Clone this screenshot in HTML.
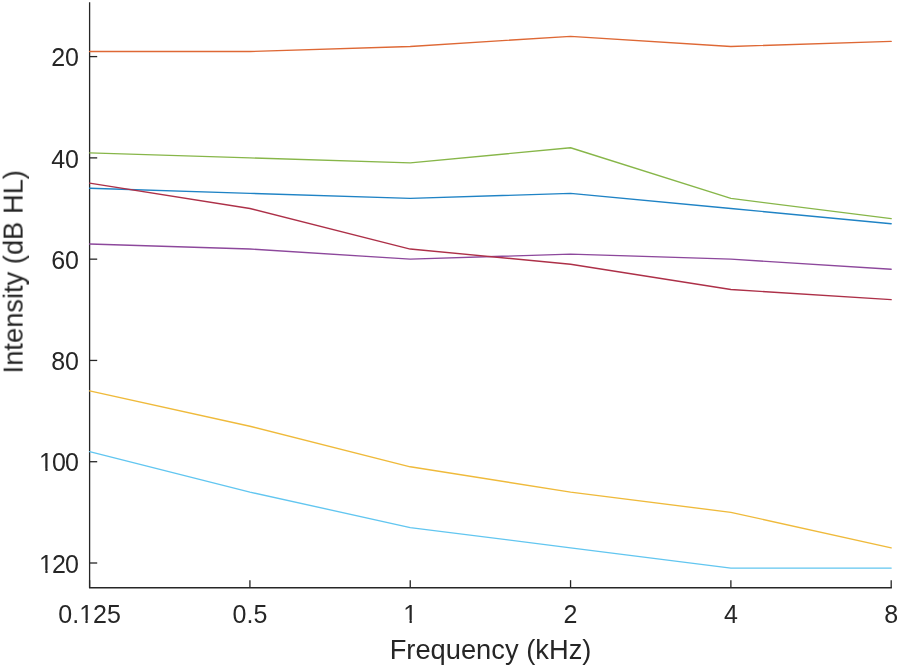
<!DOCTYPE html>
<html><head><meta charset="utf-8"><title>Audiogram</title><style>
html,body{margin:0;padding:0;background:#fff;}
body{width:900px;height:668px;overflow:hidden;}
svg{display:block;}
.t{will-change:transform;}
text{font-family:"Liberation Sans",sans-serif;font-size:25px;fill:#262626;}
text.lab{font-size:27.3px;}
</style></head><body>
<svg width="900" height="668" viewBox="0 0 900 668">
<rect width="900" height="668" fill="#fff"/>
<g stroke="#262626" stroke-width="1.3" fill="none">
<path d="M89.6,2.3 V587.77 H891.85"/>
<line x1="89.6" y1="56.60" x2="97.20" y2="56.60"/>
<line x1="89.6" y1="157.88" x2="97.20" y2="157.88"/>
<line x1="89.6" y1="259.16" x2="97.20" y2="259.16"/>
<line x1="89.6" y1="360.44" x2="97.20" y2="360.44"/>
<line x1="89.6" y1="461.72" x2="97.20" y2="461.72"/>
<line x1="89.6" y1="563.00" x2="97.20" y2="563.00"/>
<line x1="89.60" y1="587.77" x2="89.60" y2="580.17"/>
<line x1="249.92" y1="587.77" x2="249.92" y2="580.17"/>
<line x1="410.24" y1="587.77" x2="410.24" y2="580.17"/>
<line x1="570.56" y1="587.77" x2="570.56" y2="580.17"/>
<line x1="730.88" y1="587.77" x2="730.88" y2="580.17"/>
<line x1="891.20" y1="587.77" x2="891.20" y2="580.17"/>
</g>
<g>
<polyline points="89.60,188.26 249.92,193.33 410.24,198.39 570.56,193.33 730.88,208.52 891.20,223.71" fill="none" stroke="#1F83C5" stroke-width="1.35" stroke-linejoin="round" stroke-linecap="round"/>
<polyline points="89.60,51.54 249.92,51.54 410.24,46.47 570.56,36.34 730.88,46.47 891.20,41.41" fill="none" stroke="#DE6835" stroke-width="1.35" stroke-linejoin="round" stroke-linecap="round"/>
<polyline points="89.60,390.82 249.92,426.27 410.24,466.78 570.56,492.10 730.88,512.36 891.20,547.81" fill="none" stroke="#EFBA3B" stroke-width="1.35" stroke-linejoin="round" stroke-linecap="round"/>
<polyline points="89.60,243.97 249.92,249.03 410.24,259.16 570.56,254.10 730.88,259.16 891.20,269.29" fill="none" stroke="#8D489C" stroke-width="1.35" stroke-linejoin="round" stroke-linecap="round"/>
<polyline points="89.60,152.82 249.92,157.88 410.24,162.94 570.56,147.75 730.88,198.39 891.20,218.65" fill="none" stroke="#87B649" stroke-width="1.35" stroke-linejoin="round" stroke-linecap="round"/>
<polyline points="89.60,451.59 249.92,492.10 410.24,527.55 570.56,547.81 730.88,568.06 891.20,568.06" fill="none" stroke="#62C6F0" stroke-width="1.35" stroke-linejoin="round" stroke-linecap="round"/>
<polyline points="89.60,183.20 249.92,208.52 410.24,249.03 570.56,264.22 730.88,289.54 891.20,299.67" fill="none" stroke="#AD3048" stroke-width="1.35" stroke-linejoin="round" stroke-linecap="round"/>
</g>
<g class="t">
<text x="79.0" y="66.30" text-anchor="end">20</text>
<text x="79.0" y="167.58" text-anchor="end">40</text>
<text x="79.0" y="268.86" text-anchor="end">60</text>
<text x="79.0" y="370.14" text-anchor="end">80</text>
<text x="79.0" y="471.42" text-anchor="end">1<tspan dx="-0.9">0</tspan><tspan dx="-0.9">0</tspan></text>
<text x="79.0" y="572.70" text-anchor="end">1<tspan dx="-0.9">2</tspan><tspan dx="-0.9">0</tspan></text>
<text x="89.60" y="622.7" text-anchor="middle">0.125</text>
<text x="249.92" y="622.7" text-anchor="middle">0.5</text>
<text x="410.24" y="622.7" text-anchor="middle">1</text>
<text x="570.56" y="622.7" text-anchor="middle">2</text>
<text x="730.88" y="622.7" text-anchor="middle">4</text>
<text x="891.20" y="622.7" text-anchor="middle">8</text>
<text class="lab" x="490.5" y="659.2" text-anchor="middle">Frequency (kHz)</text>
<text class="lab" transform="translate(22.6,271.7) rotate(-90)" text-anchor="middle">Intensity (dB HL)</text>
<rect x="39.99" y="468.65" width="5.38" height="3.97" fill="#fff"/>
<rect x="47.58" y="468.65" width="5.19" height="3.97" fill="#fff"/>
<rect x="39.99" y="569.93" width="5.38" height="3.97" fill="#fff"/>
<rect x="47.58" y="569.93" width="5.19" height="3.97" fill="#fff"/>
<rect x="80.07" y="619.93" width="5.38" height="3.97" fill="#fff"/>
<rect x="87.66" y="619.93" width="5.19" height="3.97" fill="#fff"/>
<rect x="404.19" y="619.93" width="5.38" height="3.97" fill="#fff"/>
<rect x="411.78" y="619.93" width="5.19" height="3.97" fill="#fff"/>
</g>
</svg>
</body></html>
